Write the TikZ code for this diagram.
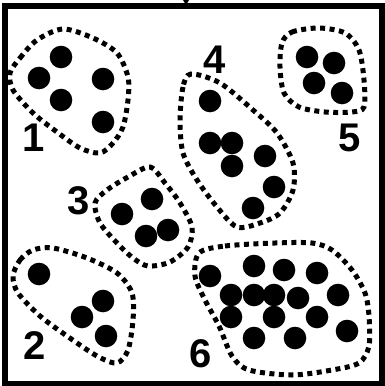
\documentclass[tikz,border=0pt]{standalone}
\usepackage{fontspec}
\setmainfont{Liberation Sans}
\usetikzlibrary{positioning}
\tikzset{
  cluster/.style={line width=5pt, dash pattern=on 5pt off 4.5pt},
  numlbl/.style={font=\fontsize{40}{40}\selectfont\bfseries, inner sep=0pt}
}
\begin{document}
\begin{tikzpicture}[x=1pt,y=-1pt]
\useasboundingbox (0,0) rectangle (384,386);
% frame
\draw[line width=6pt] (5,6) rectangle (381.5,383.5);
\fill (183,0) -- (189,0) -- (186,5) -- cycle;
% cluster outlines
\draw[cluster] plot[smooth cycle] coordinates {(10,73) (20,58) (37,40) (63,29) (93,38) (117,53) (128,77) (128,100) (123,127) (113,143) (100,153) (80,148) (57,132) (33,113) (13,90)};
\draw[cluster] plot[smooth cycle] coordinates {(282,43) (292,32) (319,28) (345,33) (359,50) (364,80) (364,107) (352,112) (325,112) (299,107) (284,93) (280,67)};
\draw[cluster] plot[smooth cycle] coordinates {(191,74) (183,87) (180,120) (183,153) (197,180) (217,207) (237,227) (260,223) (280,213) (293,190) (293,163) (277,133) (253,110) (220,83)};
\draw[cluster] plot[smooth cycle] coordinates {(150,167) (128,177) (107,190) (95,203) (100,223) (117,243) (133,258) (148,266) (170,262) (188,247) (192,227) (180,203) (165,183)};
\draw[cluster] plot[smooth cycle] coordinates {(13,276) (20,260) (33,250) (53,248) (87,258) (117,273) (132,293) (133,320) (128,350) (117,363) (97,356) (67,336) (40,316) (18,293)};
\draw[cluster] plot[smooth cycle] coordinates {(199,253) (225,246) (275,243) (312,243) (332,250) (352,270) (365,293) (369,316) (369,346) (359,363) (332,370) (292,375) (249,370) (232,356) (219,326) (205,300) (195,276)};
% dots
\foreach \x/\y in {61/57,39/78,61/100,103/79,103/122,
                   307/57,334/63,314/83,342/93,
                   210/101,210/143,232/143,232/166,265/156,274/187,253/208,
                   122/214,152/199,146/236,168/230,
                   39/274,103/301,82/317,106/336,
                   210/276,254/266,284/270,317/273,231/295,254/295,274/295,298/298,
                   338/295,231/317,274/317,317/317,347/331,254/338,295/338}
  \fill (\x,\y) circle (11.3pt);
% labels
\node[numlbl] (lbl1) at (34,138) {1};
\node[numlbl] (lbl2) at (35,346) {2};
\node[numlbl] (lbl3) at (79,201) {3};
\node[numlbl] (lbl4) at (215,60) {4};
\node[numlbl] (lbl5) at (350,138) {5};
\node[numlbl] (lbl6) at (201,354) {6};
\end{tikzpicture}
\end{document}
